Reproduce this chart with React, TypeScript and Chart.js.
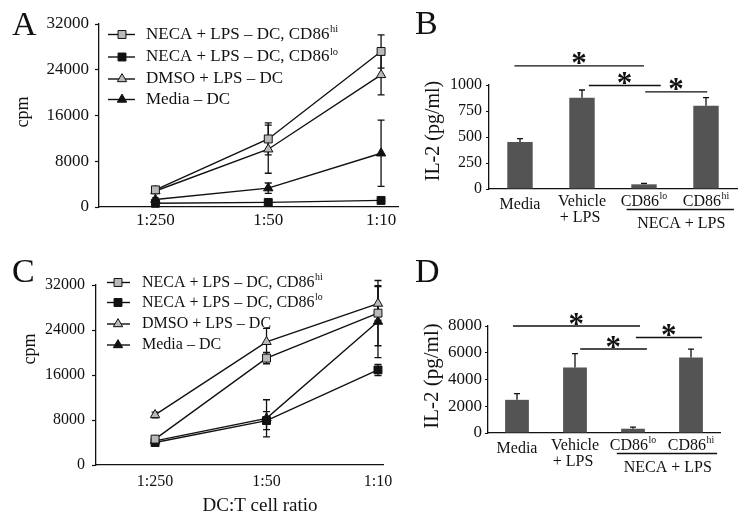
import React, { useEffect, useRef } from 'react';
import { Chart, registerables } from 'chart.js';
Chart.register(...registerables);

const W = 749;
const H = 518;
const FONT = '"Liberation Serif", "Times New Roman", serif';
const INK = '#111111';
const GRAY_FILL = '#b9b9b9';
const BLACK_FILL = '#111111';
const BAR_FILL = '#545454';

// ---------- shared categories ----------
const ratioLabels = ['1:250', '1:50', '1:10'];
const ratioIndex = [0, 1, 2];
const seriesNames = [
  'NECA + LPS – DC, CD86^hi',
  'NECA + LPS – DC, CD86^lo',
  'DMSO + LPS – DC',
  'Media – DC',
];
const xAxisTitle = 'DC:T cell ratio';
const cpmTitle = 'cpm';
const il2Title = 'IL-2 (pg/ml)';

// ---------- panel A (cpm) ----------
const aNecaHi = [3000, 11900, 27200];
const aNecaHiErr = [300, 2800, 2900];
const aNecaLo = [650, 800, 1150];
const aNecaLoErr = [150, 150, 200];
const aDmso = [2800, 10100, 23100];
const aDmsoErr = [300, 4200, 3500];
const aMedia = [1300, 3300, 9400];
const aMediaErr = [300, 900, 5800];
const aYTicks = [0, 8000, 16000, 24000, 32000];

// ---------- panel C (cpm) ----------
const cNecaHi = [4600, 19000, 27000];
const cNecaHiErr = [400, 1000, 5800];
const cNecaLo = [4000, 7900, 16900];
const cNecaLoErr = [300, 1600, 1000];
const cDmso = [8900, 21900, 28700];
const cDmsoErr = [500, 2400, 3000];
const cMedia = [4300, 8300, 25500];
const cMediaErr = [300, 3300, 6400];
const cYTicks = [0, 8000, 16000, 24000, 32000];

// ---------- panels B and D (IL-2 bars) ----------
const barCategories = ['Media', 'Vehicle + LPS', 'CD86lo', 'CD86hi'];
const barTickLines = [['Media'], ['Vehicle', '+ LPS'], ['CD86^lo'], ['CD86^hi']];
const barGroupLabel = 'NECA + LPS';

const bIL2 = [452, 878, 45, 800];
const bIL2Err = [33, 74, 10, 78];
const bYTicks = [0, 250, 500, 750, 1000];
const bSigFrom = [-0.09, 1.11, 2.02];
const bSigTo = [2.0, 2.27, 3.02];
const bSigLevel = [1183, 995, 933];

const dIL2 = [2480, 4900, 320, 5650];
const dIL2Err = [460, 1030, 125, 620];
const dYTicks = [0, 2000, 4000, 6000, 8000];
const dSigFrom = [-0.07, 1.09, 2.05];
const dSigTo = [2.12, 2.24, 3.19];
const dSigLevel = [8000, 6280, 7140];

// ---------- drawing helpers ----------
const markerStyles = [
  { style: 'rect', fill: GRAY_FILL, r: 5.6 },
  { style: 'rect', fill: BLACK_FILL, r: 5.6 },
  { style: 'triangle', fill: GRAY_FILL, r: 5.4 },
  { style: 'triangle', fill: BLACK_FILL, r: 5.4 },
];

function drawMarker(ctx: CanvasRenderingContext2D, style: string, x: number, y: number, r: number, fill: string) {
  ctx.save();
  ctx.beginPath();
  if (style === 'rect') {
    const s = Math.SQRT1_2 * r;
    ctx.rect(x - s, y - s, 2 * s, 2 * s);
  } else {
    let a = 0;
    ctx.moveTo(x + Math.sin(a) * r, y - Math.cos(a) * r);
    a += (2 * Math.PI) / 3;
    ctx.lineTo(x + Math.sin(a) * r, y - Math.cos(a) * r);
    a += (2 * Math.PI) / 3;
    ctx.lineTo(x + Math.sin(a) * r, y - Math.cos(a) * r);
    ctx.closePath();
  }
  ctx.fillStyle = fill;
  ctx.fill();
  ctx.lineWidth = 1;
  ctx.strokeStyle = INK;
  ctx.stroke();
  ctx.restore();
}

function drawRich(ctx: CanvasRenderingContext2D, text: string, x: number, y: number, size: number, align: 'left' | 'center') {
  const [main, sup] = text.split('^');
  const supSize = size * 0.62;
  ctx.save();
  ctx.fillStyle = INK;
  ctx.textBaseline = 'middle';
  ctx.textAlign = 'left';
  ctx.font = `${size}px ${FONT}`;
  const wMain = ctx.measureText(main).width;
  ctx.font = `${supSize}px ${FONT}`;
  const wSup = sup ? ctx.measureText(sup).width + 0.5 : 0;
  const x0 = align === 'center' ? x - (wMain + wSup) / 2 : x;
  ctx.font = `${size}px ${FONT}`;
  ctx.fillText(main, x0, y);
  if (sup) {
    ctx.font = `${supSize}px ${FONT}`;
    ctx.fillText(sup, x0 + wMain + 0.5, y - size * 0.3);
  }
  ctx.restore();
}

function drawText(ctx: CanvasRenderingContext2D, text: string, x: number, y: number, size: number, align: CanvasTextAlign, baseline: CanvasTextBaseline, rotate = false) {
  ctx.save();
  ctx.fillStyle = INK;
  ctx.font = `${size}px ${FONT}`;
  ctx.textAlign = align;
  ctx.textBaseline = baseline;
  if (rotate) {
    ctx.translate(x, y);
    ctx.rotate(-Math.PI / 2);
    ctx.fillText(text, 0, 0);
  } else {
    ctx.fillText(text, x, y);
  }
  ctx.restore();
}

function drawStar(ctx: CanvasRenderingContext2D, cx: number, yBottom: number, targetWidth: number) {
  ctx.save();
  ctx.fillStyle = INK;
  ctx.font = `bold 100px ${FONT}`;
  const m0 = ctx.measureText('*');
  const w0 = m0.actualBoundingBoxLeft + m0.actualBoundingBoxRight;
  const size = (100 * targetWidth) / w0;
  ctx.font = `bold ${size}px ${FONT}`;
  const m = ctx.measureText('*');
  const w = m.actualBoundingBoxLeft + m.actualBoundingBoxRight;
  ctx.textAlign = 'left';
  ctx.textBaseline = 'alphabetic';
  ctx.fillText('*', cx - w / 2 + m.actualBoundingBoxLeft, yBottom - m.actualBoundingBoxDescent);
  ctx.restore();
}

// error bars drawn from dataset.errors
const errorBarPlugin = {
  id: 'errorBars',
  beforeDatasetsDraw(chart: any) {
    if (chart.config.type !== 'line') return;
    drawErrors(chart, false);
  },
  afterDatasetsDraw(chart: any) {
    if (chart.config.type !== 'bar') return;
    drawErrors(chart, true);
  },
};

function drawErrors(chart: any, upOnly: boolean) {
  const ctx: CanvasRenderingContext2D = chart.ctx;
  chart.data.datasets.forEach((ds: any, di: number) => {
    const errs: number[] | undefined = ds.errors;
    if (!errs) return;
    const meta = chart.getDatasetMeta(di);
    const yScale = chart.scales[meta.yAxisID];
    meta.data.forEach((el: any, i: number) => {
      const raw = ds.data[i];
      const v = typeof raw === 'number' ? raw : raw.y;
      const e = errs[i];
      const x = el.x;
      const yTop = yScale.getPixelForValue(v + e);
      const yBot = upOnly ? yScale.getPixelForValue(v) : yScale.getPixelForValue(v - e);
      const cap = upOnly ? 3 : 3.5;
      ctx.save();
      ctx.strokeStyle = INK;
      ctx.lineWidth = 1.3;
      ctx.beginPath();
      ctx.moveTo(x, yTop);
      ctx.lineTo(x, yBot);
      ctx.moveTo(x - cap, yTop);
      ctx.lineTo(x + cap, yTop);
      if (!upOnly) {
        ctx.moveTo(x - cap, yBot);
        ctx.lineTo(x + cap, yBot);
      }
      ctx.stroke();
      ctx.restore();
    });
  });
}

type Area = { l: number; t: number; r: number; b: number };

function padFor(area: Area, yWidth: number, xHeight: number) {
  return { left: area.l - yWidth, top: area.t, right: W - area.r, bottom: H - area.b - xHeight };
}

// ---------- line panel config ----------
function lineConfig(opts: {
  area: Area;
  xMin: number;
  xMax: number;
  values: number[][];
  errors: number[][];
  yTicks: number[];
  tickSize: number;
  xTickPad: number;
  yTickPad: number;
  legend: { ys: number[]; lineX0: number; lineX1: number; markX: number; textX: number; size: number };
  letter: { text: string; x: number; y: number };
  yTitle: { x: number; y: number; size: number };
  xTitle?: { x: number; y: number; size: number };
}) {
  const datasets = opts.values.map((vals, si) => ({
    label: seriesNames[si],
    data: ratioIndex.map((x, i) => ({ x, y: vals[i] })),
    errors: opts.errors[si],
    borderColor: INK,
    borderWidth: 1.4,
    pointStyle: markerStyles[si].style,
    pointRadius: markerStyles[si].r,
    pointBackgroundColor: markerStyles[si].fill,
    pointBorderColor: INK,
    pointBorderWidth: 1,
    clip: false,
    tension: 0,
    order: si,
  }));
  const yWidth = 60;
  const xHeight = 30;
  const overlay = {
    id: 'overlay' + opts.letter.text,
    afterDraw(chart: any) {
      const ctx: CanvasRenderingContext2D = chart.ctx;
      const lg = opts.legend;
      seriesNames.forEach((name, si) => {
        const y = lg.ys[si];
        ctx.save();
        ctx.strokeStyle = INK;
        ctx.lineWidth = 1.4;
        ctx.beginPath();
        ctx.moveTo(lg.lineX0, y);
        ctx.lineTo(lg.lineX1, y);
        ctx.stroke();
        ctx.restore();
        drawMarker(ctx, markerStyles[si].style, lg.markX, y, markerStyles[si].r, markerStyles[si].fill);
        drawRich(ctx, name, lg.textX, y, lg.size, 'left');
      });
      drawText(ctx, opts.letter.text, opts.letter.x, opts.letter.y, 34, 'left', 'alphabetic');
      drawText(ctx, cpmTitle, opts.yTitle.x, opts.yTitle.y, opts.yTitle.size, 'center', 'alphabetic', true);
      if (opts.xTitle) {
        drawText(ctx, xAxisTitle, opts.xTitle.x, opts.xTitle.y, opts.xTitle.size, 'center', 'alphabetic');
      }
    },
  };
  return {
    type: 'line',
    data: { datasets },
    options: {
      responsive: false,
      animation: false,
      events: [],
      layout: { padding: padFor(opts.area, yWidth, xHeight) },
      plugins: { legend: { display: false }, tooltip: { enabled: false }, title: { display: false } },
      scales: {
        x: {
          type: 'linear',
          min: opts.xMin,
          max: opts.xMax,
          afterBuildTicks: (s: any) => {
            s.ticks = ratioIndex.map((v) => ({ value: v }));
          },
          ticks: {
            callback: (v: any) => ratioLabels[v] ?? '',
            font: { family: FONT, size: opts.tickSize },
            color: INK,
            padding: opts.xTickPad,
            maxRotation: 0,
            autoSkip: false,
          },
          grid: { display: false },
          border: { display: true, color: INK, width: 1.3 },
          afterFit: (s: any) => {
            s.height = xHeight;
          },
        },
        y: {
          type: 'linear',
          min: opts.yTicks[0],
          max: opts.yTicks[opts.yTicks.length - 1],
          afterBuildTicks: (s: any) => {
            s.ticks = opts.yTicks.map((v) => ({ value: v }));
          },
          ticks: {
            callback: (v: any) => String(v),
            font: { family: FONT, size: opts.tickSize },
            color: INK,
            padding: opts.yTickPad,
          },
          grid: { display: true, drawOnChartArea: false, drawTicks: true, tickLength: 4, color: INK, tickColor: INK, tickWidth: 1.2 },
          border: { display: true, color: INK, width: 1.3 },
          afterFit: (s: any) => {
            s.width = yWidth;
          },
        },
      },
    },
    plugins: [errorBarPlugin, overlay],
  } as any;
}

// ---------- bar panel config ----------
function barConfig(opts: {
  area: Area;
  values: number[];
  errors: number[];
  yTicks: number[];
  tickSize: number;
  yTickPad: number;
  tickLength: number;
  labelSize: number;
  sigFrom: number[];
  sigTo: number[];
  sigLevel: number[];
  letter: { text: string; x: number; y: number };
  yTitle: { x: number; y: number; size: number };
}) {
  const yWidth = 50;
  const xHeight = 8;
  const overlay = {
    id: 'overlay' + opts.letter.text,
    afterDraw(chart: any) {
      const ctx: CanvasRenderingContext2D = chart.ctx;
      const xs = chart.scales.x;
      const ys = chart.scales.y;
      const b = chart.chartArea.bottom;
      barTickLines.forEach((lines, i) => {
        const x = xs.getPixelForValue(i);
        if (lines.length === 1 && lines[0].indexOf('^') < 0) {
          drawRich(ctx, lines[0], x, b + 16, opts.labelSize, 'center');
        } else if (lines.length === 2) {
          drawRich(ctx, lines[0], x, b + 12.5, opts.labelSize, 'center');
          drawRich(ctx, lines[1], x - 2, b + 29, opts.labelSize, 'center');
        } else {
          drawRich(ctx, lines[0], x, b + 12.5, opts.labelSize, 'center');
        }
      });
      ctx.save();
      ctx.strokeStyle = INK;
      ctx.lineWidth = 1.3;
      ctx.beginPath();
      ctx.moveTo(xs.getPixelForValue(1.72), b + 20.5);
      ctx.lineTo(xs.getPixelForValue(3.45), b + 20.5);
      ctx.stroke();
      ctx.restore();
      drawRich(ctx, barGroupLabel, xs.getPixelForValue(2.6), b + 34.5, opts.labelSize, 'center');
      opts.sigLevel.forEach((lvl, k) => {
        const y = ys.getPixelForValue(lvl);
        const x0 = xs.getPixelForValue(opts.sigFrom[k]);
        const x1 = xs.getPixelForValue(opts.sigTo[k]);
        ctx.save();
        ctx.strokeStyle = INK;
        ctx.lineWidth = 1.3;
        ctx.beginPath();
        ctx.moveTo(x0, y);
        ctx.lineTo(x1, y);
        ctx.stroke();
        ctx.restore();
        drawStar(ctx, (x0 + x1) / 2, y - 1.5, 13);
      });
      drawText(ctx, opts.letter.text, opts.letter.x, opts.letter.y, 34, 'left', 'alphabetic');
      drawText(ctx, il2Title, opts.yTitle.x, opts.yTitle.y, opts.yTitle.size, 'center', 'alphabetic', true);
    },
  };
  return {
    type: 'bar',
    data: {
      labels: barCategories,
      datasets: [
        {
          data: opts.values,
          errors: opts.errors,
          backgroundColor: BAR_FILL,
          borderWidth: 0,
          barPercentage: 0.41,
          categoryPercentage: 1,
        },
      ],
    },
    options: {
      responsive: false,
      animation: false,
      events: [],
      layout: { padding: padFor(opts.area, yWidth, xHeight) },
      plugins: { legend: { display: false }, tooltip: { enabled: false }, title: { display: false } },
      scales: {
        x: {
          type: 'category',
          offset: true,
          ticks: { display: false },
          grid: { display: false },
          border: { display: true, color: INK, width: 1.3 },
          afterFit: (s: any) => {
            s.height = xHeight;
          },
        },
        y: {
          type: 'linear',
          min: opts.yTicks[0],
          max: opts.yTicks[opts.yTicks.length - 1],
          afterBuildTicks: (s: any) => {
            s.ticks = opts.yTicks.map((v) => ({ value: v }));
          },
          ticks: {
            callback: (v: any) => String(v),
            font: { family: FONT, size: opts.tickSize },
            color: INK,
            padding: opts.yTickPad,
          },
          grid: { display: true, drawOnChartArea: false, drawTicks: true, tickLength: opts.tickLength, color: INK, tickColor: INK, tickWidth: 1.2 },
          border: { display: true, color: INK, width: 1.3 },
          afterFit: (s: any) => {
            s.width = yWidth;
          },
        },
      },
    },
    plugins: [errorBarPlugin, overlay],
  } as any;
}

export default function App() {
  const r0 = useRef<HTMLCanvasElement>(null);
  const r1 = useRef<HTMLCanvasElement>(null);
  const r2 = useRef<HTMLCanvasElement>(null);
  const r3 = useRef<HTMLCanvasElement>(null);

  useEffect(() => {
    const cfgA = lineConfig({
      area: { l: 99, t: 24, r: 398, b: 207 },
      xMin: -0.5,
      xMax: 2.15,
      values: [aNecaHi, aNecaLo, aDmso, aMedia],
      errors: [aNecaHiErr, aNecaLoErr, aDmsoErr, aMediaErr],
      yTicks: aYTicks,
      tickSize: 17,
      xTickPad: -5,
      yTickPad: 6,
      legend: { ys: [34.5, 57, 79, 99.5], lineX0: 108, lineX1: 135, markX: 122, textX: 146, size: 17 },
      letter: { text: 'A', x: 12, y: 35 },
      yTitle: { x: 28, y: 112, size: 18 },
    });
    const cfgC = lineConfig({
      area: { l: 96, t: 285, r: 383, b: 465 },
      xMin: -0.53,
      xMax: 2.045,
      values: [cNecaHi, cNecaLo, cDmso, cMedia],
      errors: [cNecaHiErr, cNecaLoErr, cDmsoErr, cMediaErr],
      yTicks: cYTicks,
      tickSize: 16,
      xTickPad: -1,
      yTickPad: 7,
      legend: { ys: [282.5, 302.5, 324, 345], lineX0: 107, lineX1: 130, markX: 118, textX: 142, size: 16 },
      letter: { text: 'C', x: 12, y: 282 },
      yTitle: { x: 35, y: 349, size: 18 },
      xTitle: { x: 260, y: 511, size: 19 },
    });
    const cfgB = barConfig({
      area: { l: 489, t: 85, r: 737, b: 189 },
      values: bIL2,
      errors: bIL2Err,
      yTicks: bYTicks,
      tickSize: 16,
      yTickPad: 4,
      tickLength: 3,
      labelSize: 16,
      sigFrom: bSigFrom,
      sigTo: bSigTo,
      sigLevel: bSigLevel,
      letter: { text: 'B', x: 415, y: 34 },
      yTitle: { x: 439, y: 131, size: 20 },
    });
    const cfgD = barConfig({
      area: { l: 488, t: 326, r: 720, b: 433 },
      values: dIL2,
      errors: dIL2Err,
      yTicks: dYTicks,
      tickSize: 17,
      yTickPad: 3,
      tickLength: 3,
      labelSize: 16,
      sigFrom: dSigFrom,
      sigTo: dSigTo,
      sigLevel: dSigLevel,
      letter: { text: 'D', x: 415, y: 282 },
      yTitle: { x: 438, y: 376, size: 21 },
    });
    const cfgs = [cfgA, cfgB, cfgC, cfgD];
    const refs = [r0, r1, r2, r3];
    const charts = cfgs.map((cfg, i) => new Chart(refs[i].current as HTMLCanvasElement, cfg));
    return () => charts.forEach((c) => c.destroy());
  }, []);

  const canvasStyle: React.CSSProperties = { position: 'absolute', left: 0, top: 0, width: W, height: H };
  return (
    <div style={{ position: 'fixed', left: 0, top: 0, width: W, height: H, background: '#ffffff' }}>
      <canvas ref={r0} width={W} height={H} style={canvasStyle} />
      <canvas ref={r1} width={W} height={H} style={canvasStyle} />
      <canvas ref={r2} width={W} height={H} style={canvasStyle} />
      <canvas ref={r3} width={W} height={H} style={canvasStyle} />
    </div>
  );
}
